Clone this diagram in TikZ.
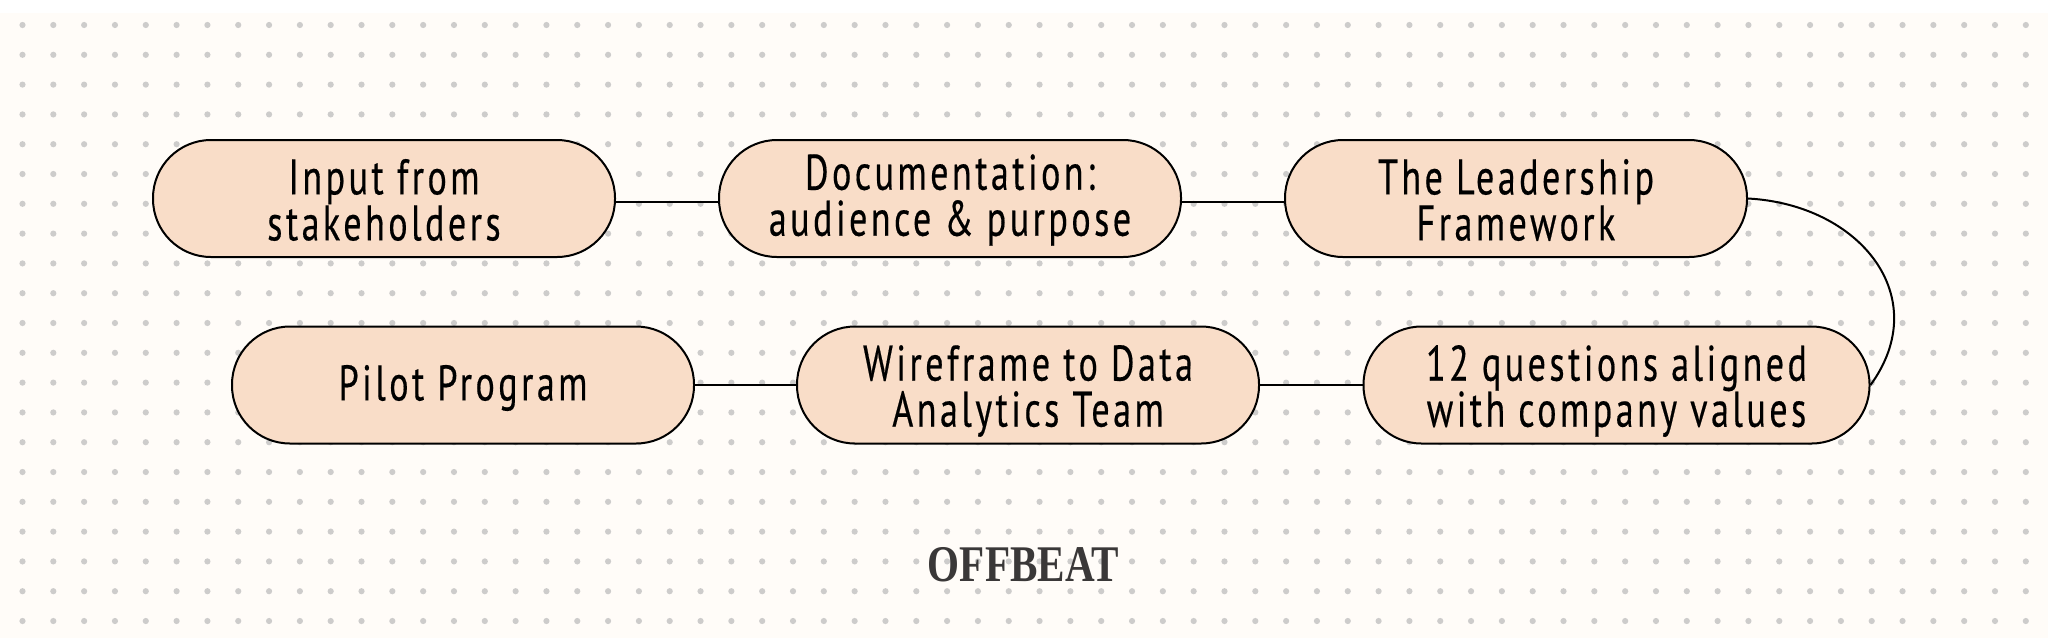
\documentclass[tikz,border=0pt]{standalone}
\usepackage{fontspec}
\newfontfamily\handfont[LetterSpace=7,FakeStretch=0.72,FakeBold=0.35,Ligatures=NoCommon]{PT Sans}
\newfontfamily\logofont[FakeStretch=0.8]{Liberation Serif}
\definecolor{bgcream}{HTML}{FFFCF8}
\definecolor{pill}{HTML}{F9DDC8}
\definecolor{dotgrey}{HTML}{CDCCCB}
\definecolor{logo}{HTML}{3A3838}
\tikzset{
  pillbox/.style={draw=black,line width=1pt,fill=pill,rectangle,rounded corners=29pt,
    minimum height=58.5pt,inner sep=0pt,align=center,text=black},
  pilltext/.style={font=\handfont\fontsize{25pt}{23pt}\selectfont,text=black,inner sep=0pt,align=center},
  wire/.style={draw=black,line width=1pt},
  griddot/.style={fill=dotgrey,draw=none}
}
\begin{document}
\begin{tikzpicture}[x=0.5pt,y=-0.5pt]
\useasboundingbox (0,0) rectangle (2048,638);
\fill[bgcream] (0,13) rectangle (2048,638);
\foreach \i in {0,...,65}{\foreach \j in {0,...,20}{
  \fill[griddot] ({22.5+30.82*\i},{25+29.8*\j}) circle (1.55pt);}}
\node[pillbox,minimum width=231pt] (a) at (384,198.5) {};
\node[pillbox,minimum width=231pt] (b) at (950,198.5) {};
\node[pillbox,minimum width=231pt] (c) at (1516,198.5) {};
\node[pillbox,minimum width=231pt] (d) at (463,385) {};
\node[pillbox,minimum width=231pt] (e) at (1028,385) {};
\node[pillbox,minimum width=253pt] (f) at (1616.5,385) {};
\node[pilltext] (ta) at (384,200) {Input from\\stakeholders};
\node[pilltext] (tb) at (950,200) {Documentation:\\audience \& purpose};
\node[pilltext] (tc) at (1516,200) {The Leadership\\Framework};
\node[pilltext] (td) at (463,388) {Pilot Program};
\node[pilltext] (te) at (1028,391) {Wireframe to Data\\Analytics Team};
\node[pilltext] (tf) at (1616.5,391) {12 questions aligned\\with company values};
\draw[wire] ([yshift=-1.75pt]a.east) -- ([yshift=-1.75pt]b.west);
\draw[wire] ([yshift=-1.75pt]b.east) -- ([yshift=-1.75pt]c.west);
\draw[wire] (d) -- (e);
\draw[wire] (e) -- (f);
\draw[wire] (c.east) .. controls +(112,6) and +(64,-88) .. (f.east);
\node[font=\logofont\bfseries\fontsize{25.7pt}{28pt}\selectfont,text=logo,inner sep=0pt] (logo) at (1023.5,565) {OFFBEAT};
\end{tikzpicture}
\end{document}
